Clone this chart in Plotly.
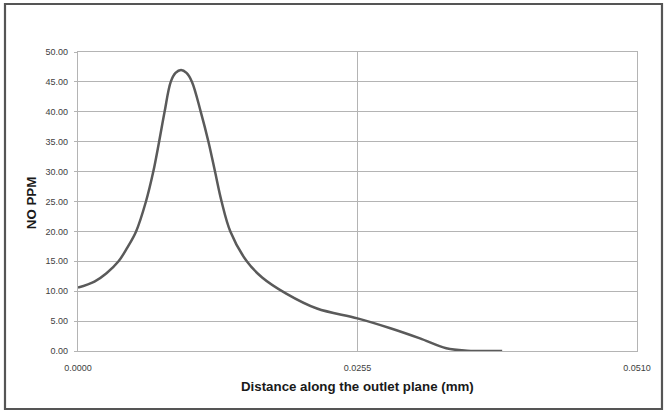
import plotly.graph_objects as go

# NO concentration profile across the outlet plane
x_mm = [0.0, 0.0015, 0.0026, 0.0037, 0.0045, 0.0053, 0.0062, 0.00687, 0.0074,
        0.0079, 0.00846, 0.0089, 0.0094, 0.0099, 0.0104, 0.0112, 0.0119,
        0.0125, 0.0131, 0.0139, 0.0154, 0.0168, 0.0190, 0.0218, 0.0255,
        0.0285, 0.0312, 0.0336, 0.0355, 0.0387]
no_ppm = [10.6, 11.6, 13.0, 15.0, 17.3, 20.0, 25.0, 30.0, 35.0,
          40.0, 45.0, 46.5, 47.0, 46.5, 45.0, 40.0, 35.0,
          30.0, 25.0, 20.0, 15.0, 12.3, 9.6, 7.1, 5.45,
          3.8, 2.1, 0.45, 0.05, 0.0]

x_ticks = [0.0, 0.0255, 0.0510]
y_ticks = [0, 5, 10, 15, 20, 25, 30, 35, 40, 45, 50]

x_title = "Distance along the outlet plane (mm)"
y_title = "NO PPM"

grid = "#b4b4b4"
tick_font = dict(family="Liberation Sans", size=9, color="#404040")
title_font = dict(family="Liberation Sans", size=13.3, color="#1a1a1a")

fig = go.Figure()
fig.add_trace(go.Scatter(
    x=x_mm, y=no_ppm, mode="lines",
    line=dict(color="#5a5a5a", width=2.5, shape="spline", smoothing=1.0),
    hoverinfo="skip", showlegend=False,
))

fig.update_layout(
    width=667, height=413,
    margin=dict(l=78, r=30, t=52, b=62),
    paper_bgcolor="white", plot_bgcolor="white",
    xaxis=dict(
        range=[0, 0.051], tickvals=x_ticks, tickformat=".4f",
        showgrid=True, gridcolor=grid, gridwidth=1.3,
        showline=True, linecolor=grid, linewidth=1.3, mirror=True,
        zeroline=False, ticks="", tickfont=tick_font, ticklabelstandoff=8,
    ),
    yaxis=dict(
        range=[0, 50], tickvals=y_ticks, tickformat=".2f",
        showgrid=True, gridcolor=grid, gridwidth=1.3,
        showline=True, linecolor=grid, linewidth=1.3, mirror=True,
        zeroline=False, ticks="outside", ticklen=3, tickcolor=grid,
        tickwidth=1.3, tickfont=tick_font, ticklabelstandoff=4,
    ),
    annotations=[
        dict(text=f"<b>{x_title}</b>", xref="paper", yref="paper",
             x=0.5, y=-0.118, xanchor="center", yanchor="middle",
             showarrow=False, font=title_font),
        dict(text=f"<b>{y_title}</b>", xref="paper", yref="paper",
             x=-0.082, y=0.495, xanchor="center", yanchor="middle",
             textangle=-90, showarrow=False, font=title_font),
    ],
    shapes=[
        dict(type="rect", xref="paper", yref="paper",
             x0=-0.1306, x1=1.0447, y0=-0.194, y1=1.1605,
             line=dict(color="#555555", width=2.2), fillcolor="rgba(0,0,0,0)",
             layer="below"),
    ],
)

fig.write_html("out.html")
